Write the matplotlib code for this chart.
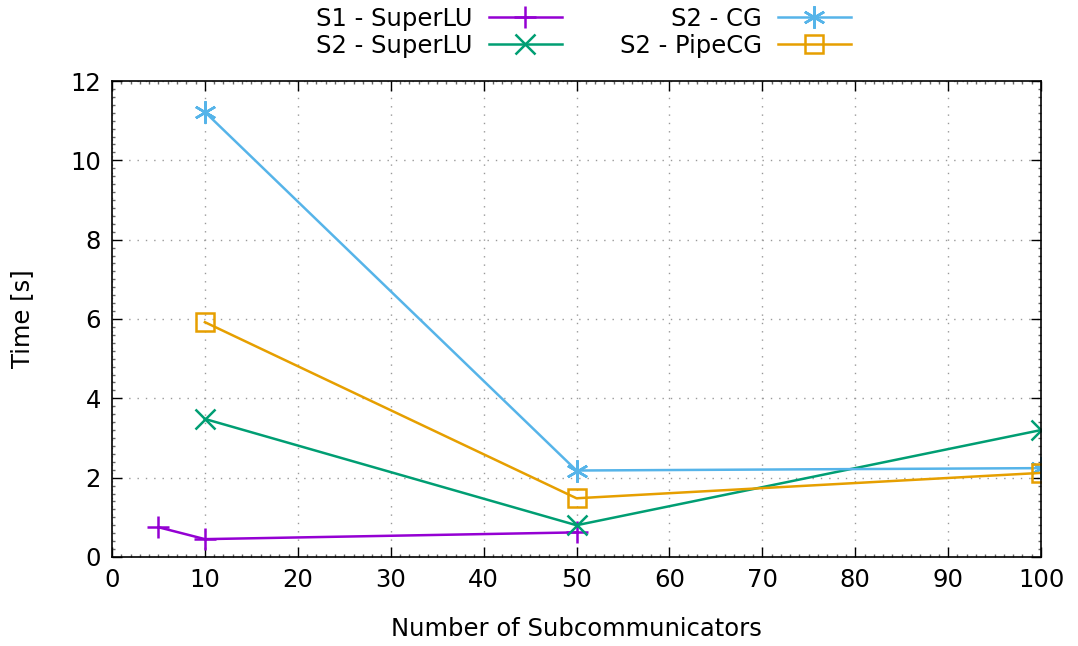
import matplotlib.pyplot as plt
from matplotlib.ticker import MultipleLocator

# timings per number of subcommunicators
x_s1_superlu = [5, 10, 50]
t_s1_superlu = [0.75, 0.45, 0.62]

x_s2 = [10, 50, 100]
t_s2_superlu = [3.48, 0.80, 3.20]
t_s2_cg = [11.22, 2.18, 2.24]
t_s2_pipecg = [5.92, 1.48, 2.12]

plt.rcParams['font.family'] = 'DejaVu Sans'
plt.rcParams['font.size'] = 17.5

fig = plt.figure(figsize=(10.78, 6.46), dpi=100)
ax = fig.add_axes([0.1039, 0.1378, 0.8618, 0.7368])

lw = 1.8
ax.plot(x_s1_superlu, t_s1_superlu, color='#9400d3', lw=lw, marker='+',
        ms=16, mew=lw, label='S1 - SuperLU')
ax.plot(x_s2, t_s2_superlu, color='#009e73', lw=lw, marker='x',
        ms=14, mew=lw, label='S2 - SuperLU')
ax.plot(x_s2, t_s2_cg, color='#56b4e9', lw=lw, marker=(6, 2, 0),
        ms=16, mew=lw, label='S2 - CG')
ax.plot(x_s2, t_s2_pipecg, color='#e69f00', lw=lw, marker='s',
        ms=13, mew=lw, mfc='none', label='S2 - PipeCG')

ax.set_xlim(0, 100)
ax.set_ylim(0, 12)
ax.xaxis.set_major_locator(MultipleLocator(10))
ax.yaxis.set_major_locator(MultipleLocator(2))
ax.xaxis.set_minor_locator(MultipleLocator(1))
ax.yaxis.set_minor_locator(MultipleLocator(0.2))
ax.tick_params(which='both', direction='in', top=True, right=True, width=1)
ax.tick_params(which='major', length=7, pad=8)
ax.tick_params(which='minor', length=2, color='#666666')
for s in ax.spines.values():
    s.set_linewidth(1.2)

ax.grid(True, which='major', color='#999999', linestyle=(0, (1, 5)), lw=1.0)
ax.set_axisbelow(True)

ax.set_xlabel('Number of Subcommunicators', labelpad=18)
ax.set_ylabel('Time [s]', labelpad=26)

ax.legend(loc='upper center', bbox_to_anchor=(583.5 / 1078, 1 - 7 / 646),
          bbox_transform=fig.transFigure, ncol=2,
          frameon=False, markerfirst=False, handlelength=3.0,
          columnspacing=2.4, labelspacing=0.12, borderpad=0,
          handletextpad=0.66, borderaxespad=0)

fig.savefig('out.png', dpi=100)
